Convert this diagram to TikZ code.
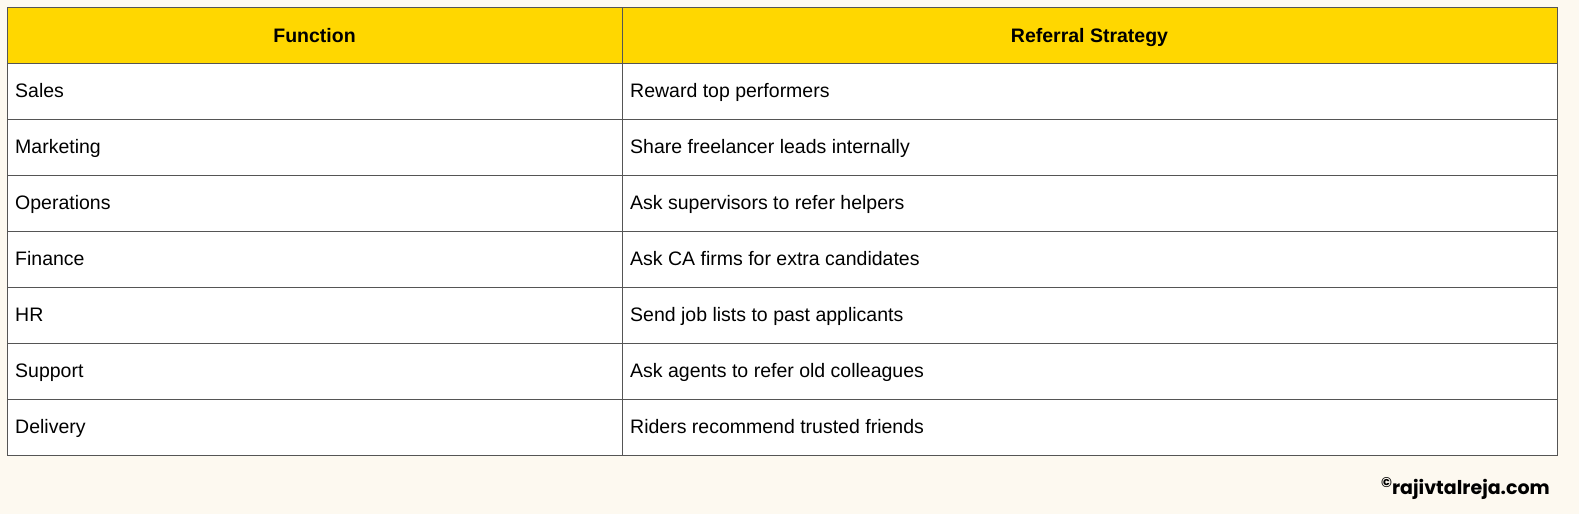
\documentclass[tikz,border=0pt]{standalone}
\usepackage{fontspec}
\setmainfont{Liberation Sans}
\newfontfamily\wm{Poppins}
\definecolor{bg}{HTML}{FDF9F0}
\definecolor{hdr}{HTML}{FFD700}
\definecolor{grid}{HTML}{555555}
\begin{document}
\begin{tikzpicture}[x=1pt,y=-1pt,
  cell/.style={anchor=base west,inner sep=0pt,font=\fontsize{19.5}{22}\selectfont},
  head/.style={anchor=base,inner sep=0pt,font=\fontsize{19.5}{22}\selectfont\bfseries}]
\fill[bg] (0,0) rectangle (1579,514);
\useasboundingbox (0,0) rectangle (1579,514);
\fill[hdr] (7,7) rectangle (1557,63);
\fill[white] (7,63) rectangle (1557,455);
\foreach \y in {63,119,175,231,287,343,399} \draw[grid,line width=1pt] (7,\y) -- (1557,\y);
\draw[grid,line width=1pt] (7,7) rectangle (1557,455);
\draw[grid,line width=1pt] (622,7) -- (622,455);
\node[head] (h1) at (314.5,42) {Function};
\node[head] (h2) at (1089.5,42) {Referral Strategy};
\foreach \i/\a/\b in {0/Sales/Reward top performers,1/Marketing/Share freelancer leads internally,2/Operations/Ask supervisors to refer helpers,3/Finance/Ask CA firms for extra candidates,4/HR/Send job lists to past applicants,5/Support/Ask agents to refer old colleagues,6/Delivery/Riders recommend trusted friends}{
  \node[cell] (a\i) at (15,{97+56*\i}) {\a};
  \node[cell] (b\i) at (630,{97+56*\i}) {\b};
}
\node[anchor=base east,inner sep=0pt,font=\wm\fontsize{19}{22}\selectfont\bfseries] (w) at (1550,494) {\raisebox{7pt}{\fontsize{14}{15}\selectfont©}rajivtalreja.com};
\end{tikzpicture}
\end{document}
